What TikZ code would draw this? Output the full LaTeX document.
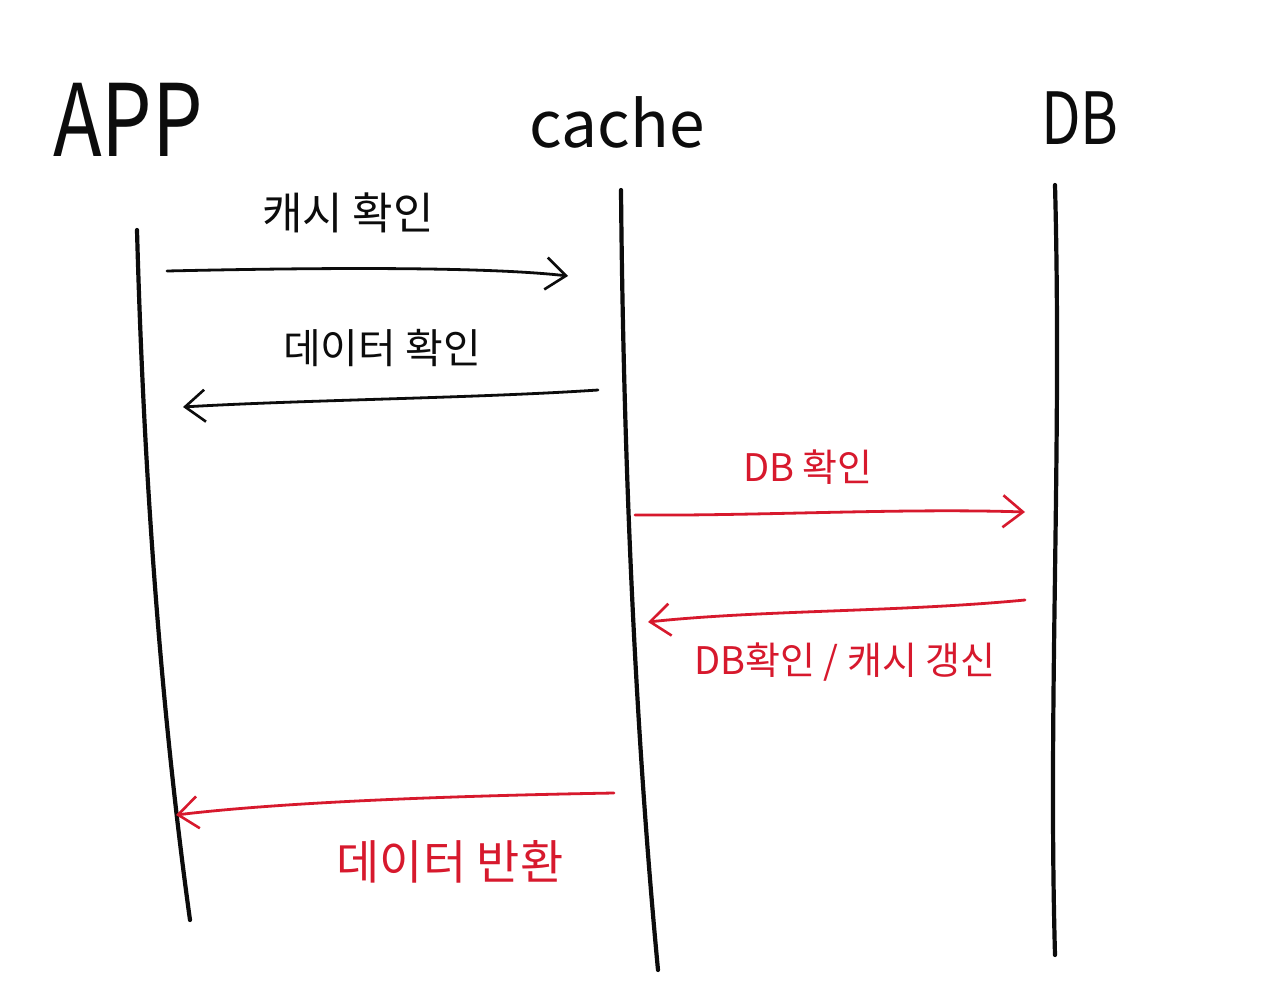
\documentclass[tikz,border=0pt]{standalone}
\usepackage{fontspec}
\newfontfamily\hand{Noto Sans CJK KR}
\usetikzlibrary{arrows.meta}
\definecolor{penblack}{RGB}{12,12,12}
\definecolor{penred}{RGB}{215,25,45}
\tikzset{
  lifeline/.style={draw=penblack, line width=4.2pt, line cap=round},
  msg/.style={line width=2.8pt, line cap=round,
    -{Straight Barb[length=20pt, width=32pt, line width=2.6pt]}},
  actor/.style={text=penblack, inner sep=0pt},
  msgtext/.style={font=\hand\fontsize{#1}{#1}\selectfont, inner sep=0pt},
  msgtext/.default=38,
}

\begin{document}
\begin{tikzpicture}[x=1pt, y=-1pt]
  \useasboundingbox[fill=white] (0,0) rectangle (1280,996);
  % actors
  \node[actor, font=\hand\fontsize{100}{100}\selectfont, xscale=0.8] (app) at (128,120) {APP};
  \node[actor, font=\hand\fontsize{64}{64}\selectfont] (cache) at (617,122) {cache};
  \node[actor, font=\hand\fontsize{72}{72}\selectfont, xscale=0.8] (db) at (1080,118) {DB};
  % lifelines
  \coordinate (appTop) at (137,230);    \coordinate (appBot) at (190,920);
  \coordinate (cacheTop) at (621,190);  \coordinate (cacheBot) at (658,970);
  \coordinate (dbTop) at (1055,185);    \coordinate (dbBot) at (1055,955);
  \draw[lifeline] (appTop) .. controls (146,560) and (172,790) .. (appBot);
  \draw[lifeline] (cacheTop) .. controls (624,520) and (640,780) .. (cacheBot);
  \draw[lifeline] (dbTop) .. controls (1062,450) and (1048,700) .. (dbBot);
  % messages
  \coordinate (m1s) at (167,271);  \coordinate (m1e) at (568,276);
  \coordinate (m2s) at (598,390);  \coordinate (m2e) at (183,407);
  \coordinate (m3s) at (635,515);  \coordinate (m3e) at (1025,512);
  \coordinate (m4s) at (1025,600); \coordinate (m4e) at (648,622);
  \coordinate (m5s) at (614,793);  \coordinate (m5e) at (176,815);
  \draw[msg, penblack] (m1s) .. controls (300,268) and (480,266) .. (m1e);
  \draw[msg, penblack] (m2s) .. controls (480,398) and (300,400) .. (m2e);
  \draw[msg, penred] (m3s) .. controls (760,516) and (900,508) .. (m3e);
  \draw[msg, penred] (m4s) .. controls (900,612) and (760,610) .. (m4e);
  \draw[msg, penred] (m5s) .. controls (500,795) and (300,800) .. (m5e);
  % labels
  \node[msgtext=44, text=penblack] (l1) at (348,213) {캐시 확인};
  \node[msgtext=41, text=penblack] (l2) at (382,348) {데이터 확인};
  \node[msgtext, text=penred] (l3) at (808,467) {DB 확인};
  \node[msgtext, text=penred] (l4) at (845,662) {DB확인 / 캐시 갱신};
  \node[msgtext=47, text=penred] (l5) at (450,862) {데이터 반환};
\end{tikzpicture}
\end{document}
